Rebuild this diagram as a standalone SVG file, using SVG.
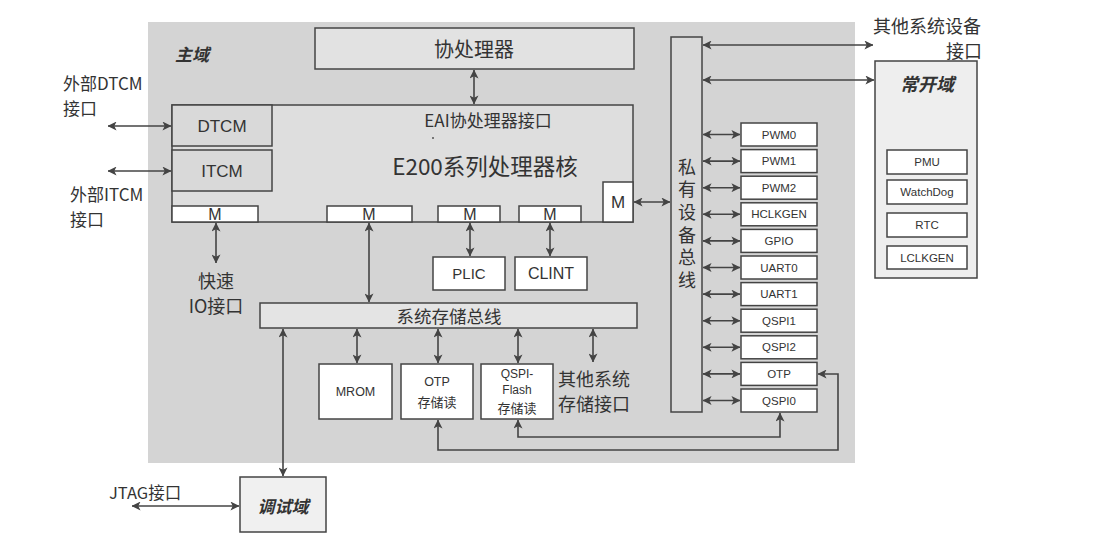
<svg xmlns="http://www.w3.org/2000/svg" width="1110" height="542" viewBox="0 0 1110 542">
<defs>
<marker id="ah" viewBox="0 0 10 10" markerWidth="9" markerHeight="9" refX="9.5" refY="5" orient="auto-start-reverse" markerUnits="userSpaceOnUse">
<path d="M0,0 L10,5 L0,10 L2.5,5 z" fill="#444"/>
</marker>
</defs>
<style>
.t{font-family:'Liberation Sans','Noto Sans CJK SC',sans-serif;fill:#333;text-anchor:middle;dominant-baseline:central}
.cn{font-family:'Noto Sans CJK SC','Liberation Sans',sans-serif;fill:#333;dominant-baseline:central}
.bi{font-family:'Noto Sans CJK SC',sans-serif;font-weight:bold;font-style:italic;fill:#333;dominant-baseline:central;text-anchor:middle}
.box{stroke:#444;stroke-width:1.5}
.w{fill:#fff}
.p{font-size:11.5px}
.c{fill:none;stroke:#444;stroke-width:1.6;marker-start:url(#ah);marker-end:url(#ah)}
</style>
<rect width="1110" height="542" fill="#fff"/>
<g id="main-domain">
<rect x="148" y="22" width="707" height="441" fill="#d4d4d4"/>
<text class="bi" x="192" y="53" font-size="17">主域</text>
</g>
<g id="coprocessor">
<rect class="box" x="315" y="28" width="319" height="41" fill="#e2e2e2"/>
<text class="cn" x="474" y="48" font-size="20" text-anchor="middle">协处理器</text>
</g>
<g id="core">
<rect class="box" x="172" y="105" width="461" height="117" fill="#dedede"/>
<text class="cn" x="488" y="119" font-size="17" text-anchor="middle">EAI协处理器接口</text>
<circle cx="433" cy="138" r="1" fill="#555"/>
<text class="cn" x="485" y="165" font-size="22.5" text-anchor="middle">E200系列处理器核</text>
</g>
<g id="dtcm">
<rect class="box" x="172" y="105" width="100" height="41" fill="#d9d9d9"/>
<text class="t" x="222" y="126" font-size="17">DTCM</text>
</g>
<g id="itcm">
<rect class="box" x="172" y="150" width="100" height="41" fill="#d9d9d9"/>
<text class="t" x="222" y="171" font-size="17">ITCM</text>
</g>
<g id="m1"><rect class="box w" x="172" y="206" width="86" height="16"/><text class="t" x="215" y="214" font-size="16">M</text></g>
<g id="m2"><rect class="box w" x="327" y="206" width="85" height="16"/><text class="t" x="369" y="214" font-size="16">M</text></g>
<g id="m3"><rect class="box w" x="438" y="206" width="62" height="16"/><text class="t" x="470" y="214" font-size="16">M</text></g>
<g id="m4"><rect class="box w" x="519" y="206" width="62" height="16"/><text class="t" x="550" y="214" font-size="16">M</text></g>
<g id="m5"><rect class="box w" x="603" y="182" width="30" height="40"/><text class="t" x="618" y="202" font-size="17">M</text></g>
<g id="private-bus">
<rect class="box" x="671" y="37" width="31" height="375" fill="#d9d9d9"/>
<text x="687" y="158" font-size="18" writing-mode="vertical-rl" letter-spacing="4.6" style="font-family:'Noto Sans CJK SC',sans-serif;fill:#333">私有设备总线</text>
</g>
<g id="peripherals">
<g id="pwm0"><rect class="box w" x="741" y="123" width="76" height="23"/><text class="t p" x="779" y="134.5">PWM0</text></g>
<g id="pwm1"><rect class="box w" x="741" y="149.6" width="76" height="23"/><text class="t p" x="779" y="161.1">PWM1</text></g>
<g id="pwm2"><rect class="box w" x="741" y="176.2" width="76" height="23"/><text class="t p" x="779" y="187.7">PWM2</text></g>
<g id="hclkgen"><rect class="box w" x="741" y="202.8" width="76" height="23"/><text class="t p" x="779" y="214.3">HCLKGEN</text></g>
<g id="gpio"><rect class="box w" x="741" y="229.4" width="76" height="23"/><text class="t p" x="779" y="240.9">GPIO</text></g>
<g id="uart0"><rect class="box w" x="741" y="256" width="76" height="23"/><text class="t p" x="779" y="267.5">UART0</text></g>
<g id="uart1"><rect class="box w" x="741" y="282.6" width="76" height="23"/><text class="t p" x="779" y="294.1">UART1</text></g>
<g id="qspi1"><rect class="box w" x="741" y="309.2" width="76" height="23"/><text class="t p" x="779" y="320.7">QSPI1</text></g>
<g id="qspi2"><rect class="box w" x="741" y="335.8" width="76" height="23"/><text class="t p" x="779" y="347.3">QSPI2</text></g>
<g id="otp"><rect class="box w" x="741" y="362.4" width="76" height="23"/><text class="t p" x="779" y="373.9">OTP</text></g>
<g id="qspi0"><rect class="box w" x="741" y="389" width="76" height="23"/><text class="t p" x="779" y="400.5">QSPI0</text></g>
</g>
<g id="always-on">
<rect class="box" x="875" y="61" width="102" height="217" fill="#eeeeee"/>
<text class="bi" x="927" y="83" font-size="18">常开域</text>
<g id="pmu"><rect class="box w" x="887" y="150" width="80" height="24"/><text class="t p" x="927" y="162">PMU</text></g>
<g id="watchdog"><rect class="box w" x="887" y="180" width="80" height="24"/><text class="t p" x="927" y="192">WatchDog</text></g>
<g id="rtc"><rect class="box w" x="887" y="213" width="80" height="24"/><text class="t p" x="927" y="225">RTC</text></g>
<g id="lclkgen"><rect class="box w" x="887" y="246" width="80" height="23"/><text class="t p" x="927" y="257.5">LCLKGEN</text></g>
</g>
<g id="plic"><rect class="box w" x="433" y="257" width="72" height="33"/><text class="t" x="469" y="273.5" font-size="15">PLIC</text></g>
<g id="clint"><rect class="box w" x="515" y="257" width="72" height="33"/><text class="t" x="551" y="273.5" font-size="16">CLINT</text></g>
<g id="system-bus">
<rect class="box" x="260" y="303" width="377" height="25" fill="#e4e4e4"/>
<text class="cn" x="449" y="315.5" font-size="17.5" text-anchor="middle">系统存储总线</text>
</g>
<g id="mrom"><rect class="box w" x="319" y="364" width="73" height="55"/><text class="t" x="355.5" y="391.5" font-size="12.5">MROM</text></g>
<g id="otp-store"><rect class="box w" x="401" y="364" width="72" height="55"/><text class="t" x="437" y="382" font-size="12.5">OTP</text><text class="cn" x="437" y="401" font-size="13" text-anchor="middle">存储读</text></g>
<g id="qspi-flash"><rect class="box w" x="481" y="364" width="72" height="55"/><text class="t" x="517" y="374" font-size="12">QSPI-</text><text class="t" x="517" y="390" font-size="12">Flash</text><text class="cn" x="517" y="407" font-size="13" text-anchor="middle">存储读</text></g>
<g id="debug">
<rect class="box" x="240" y="477" width="86" height="55" fill="#f0f0f0"/>
<text class="bi" x="283" y="505" font-size="17">调试域</text>
</g>
<g id="labels">
<text class="cn" x="63" y="82" font-size="17">外部DTCM</text>
<text class="cn" x="63" y="107" font-size="17">接口</text>
<text class="cn" x="70" y="193" font-size="17">外部ITCM</text>
<text class="cn" x="70" y="218" font-size="17">接口</text>
<text class="cn" x="216" y="280" font-size="18" text-anchor="middle">快速</text>
<text class="cn" x="216" y="305" font-size="18" text-anchor="middle">IO接口</text>
<text class="cn" x="873" y="25" font-size="18">其他系统设备</text>
<text class="cn" x="982" y="50" font-size="18" text-anchor="end">接口</text>
<text class="cn" x="558" y="378" font-size="18">其他系统</text>
<text class="cn" x="558" y="403" font-size="18">存储接口</text>
<text class="cn" x="109" y="492" font-size="16.5">JTAG接口</text>
</g>
<g id="connectors">
<line class="c" x1="474" y1="70" x2="474" y2="104"/>
<line class="c" x1="108" y1="126" x2="171" y2="126"/>
<line class="c" x1="108" y1="171" x2="171" y2="171"/>
<line class="c" x1="634" y1="202" x2="670" y2="202"/>
<line class="c" x1="703" y1="45" x2="873" y2="45"/>
<line class="c" x1="703" y1="80" x2="874" y2="80"/>
<line class="c" x1="703" y1="134.5" x2="740" y2="134.5"/>
<line class="c" x1="703" y1="161.1" x2="740" y2="161.1"/>
<line class="c" x1="703" y1="187.7" x2="740" y2="187.7"/>
<line class="c" x1="703" y1="214.3" x2="740" y2="214.3"/>
<line class="c" x1="703" y1="240.9" x2="740" y2="240.9"/>
<line class="c" x1="703" y1="267.5" x2="740" y2="267.5"/>
<line class="c" x1="703" y1="294.1" x2="740" y2="294.1"/>
<line class="c" x1="703" y1="320.7" x2="740" y2="320.7"/>
<line class="c" x1="703" y1="347.3" x2="740" y2="347.3"/>
<line class="c" x1="703" y1="373.9" x2="740" y2="373.9"/>
<line class="c" x1="703" y1="400.5" x2="740" y2="400.5"/>
<line class="c" x1="216" y1="223" x2="216" y2="263"/>
<line class="c" x1="369" y1="223" x2="369" y2="302"/>
<line class="c" x1="470" y1="223" x2="470" y2="256"/>
<line class="c" x1="550" y1="223" x2="550" y2="256"/>
<line class="c" x1="357" y1="329" x2="357" y2="363"/>
<line class="c" x1="438" y1="329" x2="438" y2="363"/>
<line class="c" x1="518" y1="329" x2="518" y2="363"/>
<line class="c" x1="593" y1="329" x2="593" y2="362"/>
<line class="c" x1="283" y1="329" x2="283" y2="476"/>
<line class="c" x1="132" y1="506" x2="239" y2="506"/>
<path class="c" d="M438,420 V450 H838 V374 H818"/>
<path class="c" d="M518,420 V437 H780 V413"/>
</g>
</svg>
